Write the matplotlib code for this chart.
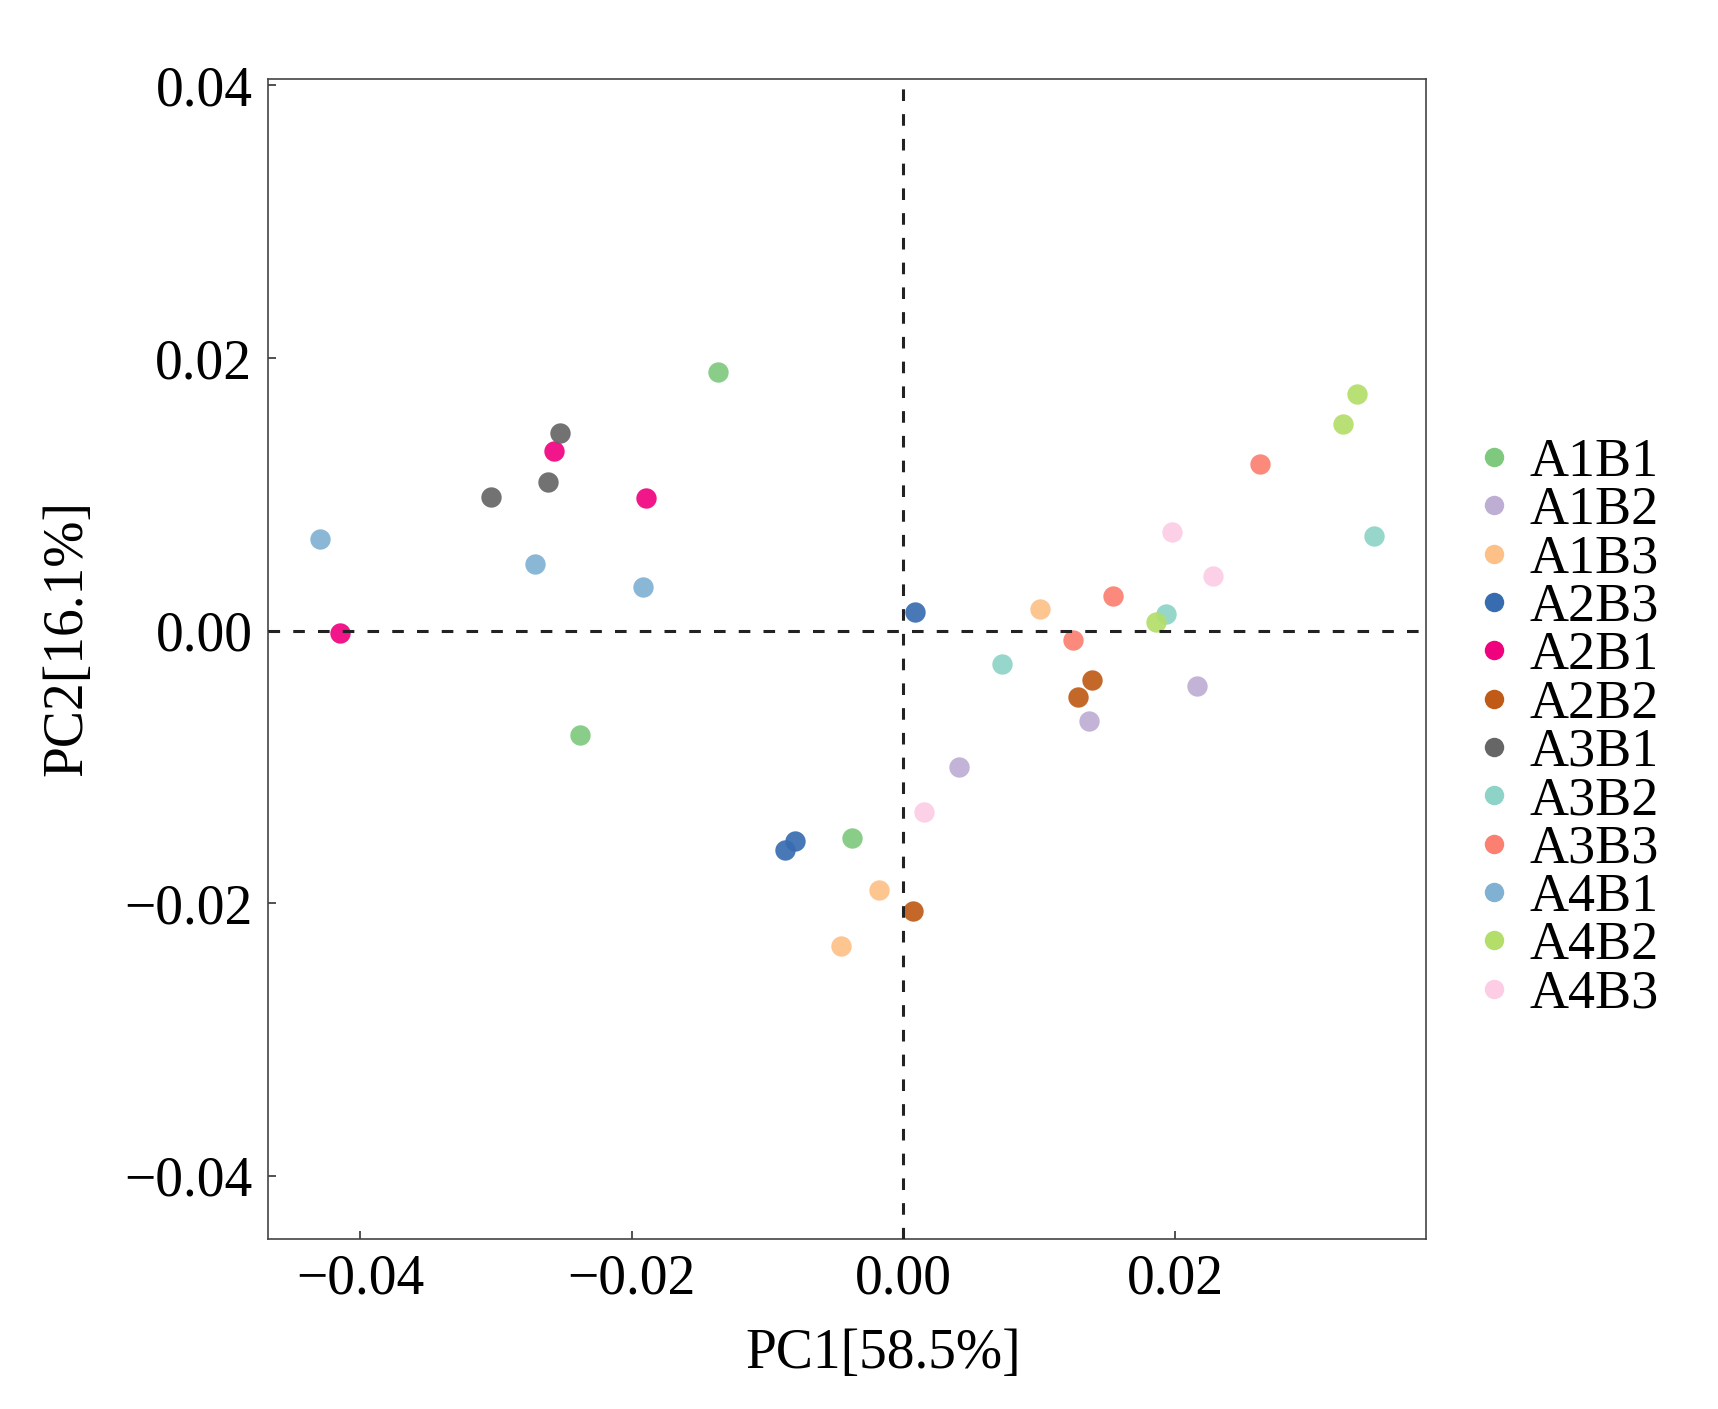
"""
PCA scatter of the A x B treatment groups (PC1 vs PC2).
"""

import matplotlib
matplotlib.use("Agg")
import matplotlib.pyplot as plt
from matplotlib.lines import Line2D
from matplotlib.ticker import FuncFormatter

plt.rcParams['font.family'] = ['Liberation Serif', 'DejaVu Serif']

groups = ['A1B1', 'A1B2', 'A1B3', 'A2B3', 'A2B1', 'A2B2',
          'A3B1', 'A3B2', 'A3B3', 'A4B1', 'A4B2', 'A4B3']
colors = ['#7fc97f', '#beaed4', '#fdc086', '#386cb0', '#f0027f', '#bf5b17',
          '#666666', '#8dd3c7', '#fb8072', '#80b1d3', '#b3de69', '#fccde5']

# three replicates per group
pc1 = {
    'A1B1': [-0.01363, -0.02380, -0.00375],
    'A1B2': [0.00408, 0.01367, 0.02160],
    'A1B3': [0.01006, -0.00179, -0.00456],
    'A2B3': [0.00089, -0.00797, -0.00871],
    'A2B1': [-0.04147, -0.02572, -0.01894],
    'A2B2': [0.01387, 0.01284, 0.00074],
    'A3B1': [-0.03033, -0.02614, -0.02527],
    'A3B2': [0.00724, 0.01934, 0.03468],
    'A3B3': [0.01247, 0.01541, 0.02629],
    'A4B1': [-0.04292, -0.02711, -0.01919],
    'A4B2': [0.01860, 0.03234, 0.03339],
    'A4B3': [0.01976, 0.02282, 0.00152],
}
pc2 = {
    'A1B1': [0.01900, -0.00765, -0.01523],
    'A1B2': [-0.01002, -0.00665, -0.00406],
    'A1B3': [0.00157, -0.01902, -0.02313],
    'A2B3': [0.00137, -0.01541, -0.01609],
    'A2B1': [-0.00019, 0.01321, 0.00971],
    'A2B2': [-0.00362, -0.00484, -0.02054],
    'A3B1': [0.00981, 0.01089, 0.01448],
    'A3B2': [-0.00247, 0.00123, 0.00692],
    'A3B3': [-0.00068, 0.00257, 0.01223],
    'A4B1': [0.00671, 0.00489, 0.00323],
    'A4B2': [0.00066, 0.01513, 0.01738],
    'A4B3': [0.00724, 0.00401, -0.01328],
}

x_ticks = [-0.04, -0.02, 0.00, 0.02]
y_ticks = [-0.04, -0.02, 0.00, 0.02, 0.04]


def fmt(v, pos):
    # two decimals with a real minus sign
    return ('%.2f' % v).replace('-', '\u2212')


fig = plt.figure(figsize=(17.18, 14.09), dpi=100)
ax = fig.add_axes([0.1558, 0.1209, 0.6744, 0.8231])

for name, color in zip(groups, colors):
    ax.scatter(pc1[name], pc2[name], s=215, color=color, alpha=0.92,
               linewidths=0, zorder=2)

ax.axhline(0, color='#222222', lw=2.2, ls=(0, (3.8, 4.3)), zorder=3)
ax.axvline(0, color='#222222', lw=2.2, ls=(0, (3.8, 4.3)), zorder=3)

ax.set_xlim(-0.04679, 0.0385)
ax.set_ylim(-0.04461, 0.04048)
ax.set_xticks(x_ticks)
ax.set_yticks(y_ticks)
ax.xaxis.set_major_formatter(FuncFormatter(fmt))
ax.yaxis.set_major_formatter(FuncFormatter(fmt))
ax.tick_params(direction='in', length=6, width=1.2, colors='#333333',
               labelcolor='black', labelsize=40, pad=11,
               top=False, right=False)

for sp in ax.spines.values():
    sp.set_color('#444444')
    sp.set_linewidth(1.2)

ax.set_xlabel('PC1[58.5%]', fontsize=40, labelpad=16)
ax.set_ylabel('PC2[16.1%]', fontsize=40, labelpad=22)
ax.xaxis.label.set_x(0.531)
ax.yaxis.label.set_y(0.518)

handles = [Line2D([], [], ls='none', marker='o', markersize=14,
                  markerfacecolor=c, markeredgewidth=0) for c in colors]
ax.legend(handles, groups, loc='center left', frameon=False, fontsize=39,
          bbox_to_anchor=(0.854, 0.483), bbox_transform=fig.transFigure,
          handlelength=1.0, handletextpad=0.15, labelspacing=-0.04,
          borderpad=0, borderaxespad=0)

fig.savefig('out.png', dpi=100)
